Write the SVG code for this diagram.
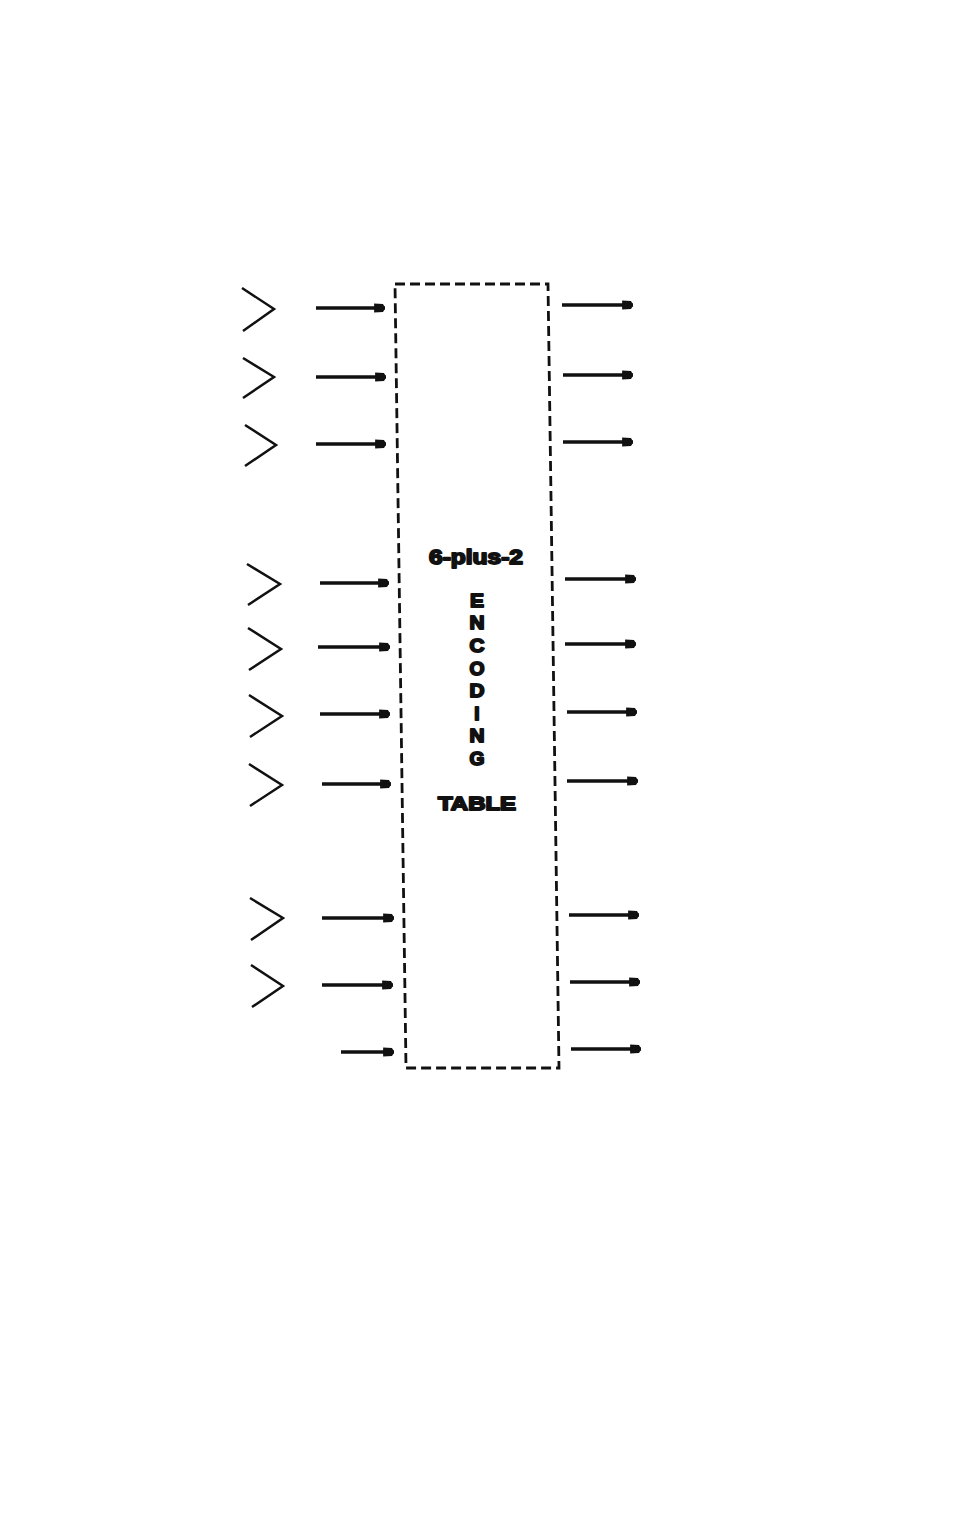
<svg xmlns="http://www.w3.org/2000/svg" width="954" height="1520" viewBox="0 0 954 1520">
<style>
.chev{fill:none;stroke:#111;stroke-width:2.5;stroke-linejoin:miter}
.ar{stroke:#111;stroke-width:3.4;fill:none;marker-end:url(#ah)}
.box{fill:none;stroke:#111;stroke-width:2.8;stroke-dasharray:10 5}
.t{font-family:"Liberation Sans",Arial,sans-serif;font-weight:bold;fill:#111;stroke:#111;stroke-width:1.8;stroke-linejoin:round;text-anchor:middle}
.v{font-size:19px}
</style>
<defs>
<marker id="ah" markerWidth="4" markerHeight="3" refX="3.2" refY="1.5" orient="auto" markerUnits="strokeWidth">
<path d="M0,0.2 L2.6,0.3 Q3.6,1.5 2.6,2.7 L0,2.8 Z" fill="#111"/>
</marker>
</defs>
<rect width="954" height="1520" fill="#fff"/>
<g id="table">
<path class="box" d="M395,284 L548,284 L559,1068 L406,1068 Z"/>
<text class="t" x="476" y="564" font-size="20" textLength="94" lengthAdjust="spacingAndGlyphs">6-plus-2</text>
<text class="t v" x="477" y="607" textLength="14" lengthAdjust="spacingAndGlyphs">E</text>
<text class="t v" x="477" y="629" textLength="15" lengthAdjust="spacingAndGlyphs">N</text>
<text class="t v" x="477" y="652" textLength="15" lengthAdjust="spacingAndGlyphs">C</text>
<text class="t v" x="477" y="675" textLength="15" lengthAdjust="spacingAndGlyphs">O</text>
<text class="t v" x="477" y="697" textLength="15" lengthAdjust="spacingAndGlyphs">D</text>
<text class="t v" x="477" y="720">I</text>
<text class="t v" x="477" y="742" textLength="15" lengthAdjust="spacingAndGlyphs">N</text>
<text class="t v" x="477" y="765" textLength="15" lengthAdjust="spacingAndGlyphs">G</text>
<text class="t" x="477" y="810" font-size="19" textLength="78" lengthAdjust="spacingAndGlyphs">TABLE</text>
</g>
<g id="chevrons">
<path class="chev" d="M242,288 L274,309 L243,331"/>
<path class="chev" d="M243,358 L274,377 L243,398"/>
<path class="chev" d="M245,425 L276,445 L245,466"/>
<path class="chev" d="M247,564 L280,584 L248,605"/>
<path class="chev" d="M248,628 L281,649 L249,670"/>
<path class="chev" d="M249,695 L282,716 L250,737"/>
<path class="chev" d="M249,764 L282,785 L250,806"/>
<path class="chev" d="M250,898 L283,918 L251,940"/>
<path class="chev" d="M251,965 L283,986 L252,1007"/>
</g>
<g id="connectors">
<line class="ar" x1="316" y1="308" x2="385" y2="308"/>
<line class="ar" x1="316" y1="377" x2="386" y2="377"/>
<line class="ar" x1="316" y1="444" x2="386" y2="444"/>
<line class="ar" x1="320" y1="583" x2="389" y2="583"/>
<line class="ar" x1="318" y1="647" x2="390" y2="647"/>
<line class="ar" x1="320" y1="714" x2="390" y2="714"/>
<line class="ar" x1="322" y1="784" x2="391" y2="784"/>
<line class="ar" x1="322" y1="918" x2="394" y2="918"/>
<line class="ar" x1="322" y1="985" x2="393" y2="985"/>
<line class="ar" x1="341" y1="1052" x2="394" y2="1052"/>
<line class="ar" x1="562" y1="305" x2="633" y2="305"/>
<line class="ar" x1="563" y1="375" x2="633" y2="375"/>
<line class="ar" x1="563" y1="442" x2="633" y2="442"/>
<line class="ar" x1="565" y1="579" x2="636" y2="579"/>
<line class="ar" x1="565" y1="644" x2="636" y2="644"/>
<line class="ar" x1="567" y1="712" x2="637" y2="712"/>
<line class="ar" x1="567" y1="781" x2="638" y2="781"/>
<line class="ar" x1="569" y1="915" x2="639" y2="915"/>
<line class="ar" x1="570" y1="982" x2="640" y2="982"/>
<line class="ar" x1="571" y1="1049" x2="641" y2="1049"/>
</g>
</svg>
